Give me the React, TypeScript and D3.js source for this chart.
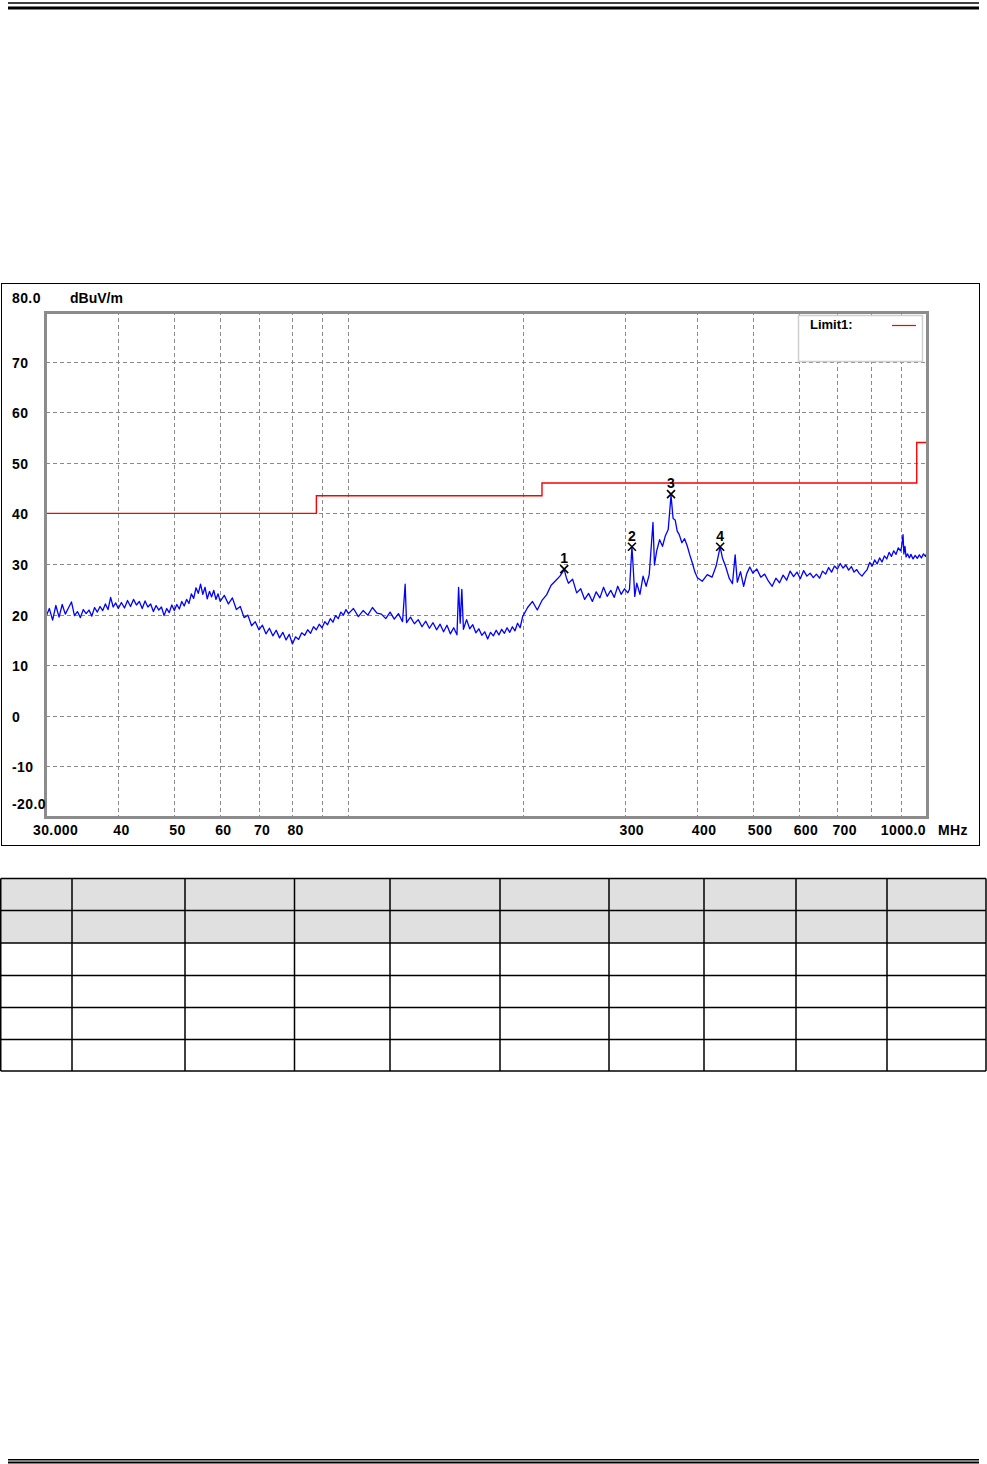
import React, { useEffect, useRef } from "react";
import * as d3 from "d3";

// measured sweep, [MHz, dBuV/m]
const trace: [number, number][] = [
	[30, 19.6], [30.4, 21.2], [30.8, 18.9], [31.2, 21.8], [31.6, 19.5], [32, 22.0],
	[32.4, 20.1], [32.8, 21.3], [33.2, 22.5], [33.6, 19.8], [34, 20.6], [34.4, 19.4],
	[34.8, 21.0], [35.2, 20.2], [35.6, 20.9], [36, 19.7], [36.4, 21.4], [36.8, 20.5],
	[37.2, 21.6], [37.6, 20.8], [38, 22.1], [38.4, 21.0], [38.8, 23.4], [39.2, 21.5],
	[39.6, 22.3], [40, 21.2],
	[40.5, 22.4], [41, 21.3], [41.5, 22.8], [42, 21.6], [42.5, 23.0], [43, 21.9],
	[43.5, 22.6], [44, 21.2], [44.5, 22.7], [45, 21.5], [45.5, 22.1], [46, 20.6],
	[46.5, 21.8], [47, 20.9], [47.5, 21.5], [48, 19.8], [48.5, 21.2], [49, 20.4],
	[49.5, 21.9], [50, 20.8], [50.5, 22.0], [51, 21.1], [51.5, 22.6], [52, 21.7],
	[52.5, 23.0], [53, 22.2], [53.5, 24.1], [54, 23.2], [54.5, 25.3], [55, 24.2],
	[55.5, 26.0], [56, 24.0], [56.5, 25.4], [57, 23.1], [57.5, 24.6], [58, 23.5],
	[58.5, 24.8], [59, 23.0], [59.5, 24.1], [60, 22.6],
	[61, 23.8], [62, 22.1], [63, 23.3], [64, 21.0], [65, 21.6], [66, 19.4],
	[67, 19.9], [68, 17.8], [69, 18.6], [70, 17.0], [71, 17.9], [72, 16.2],
	[73, 17.3], [74, 15.8], [75, 16.9], [76, 15.4], [77, 16.5], [78, 15.0],
	[79, 16.1], [80, 14.2], [81, 15.6], [82, 15.1], [83, 16.4], [84, 15.9],
	[85, 17.0], [86, 16.3], [87, 17.6], [88, 17.0], [89, 18.1], [90, 17.4],
	[91, 18.6], [92, 18.0], [93, 19.2], [94, 18.5], [95, 19.8], [96, 19.2],
	[97, 20.5], [98, 19.9], [99, 21.0], [100, 20.2],
	[102, 21.2], [104, 19.6], [106, 20.8], [108, 19.9], [110, 21.4], [112, 20.3],
	[114, 20.1], [116, 19.2], [118, 20.5], [120, 19.1], [122, 20.2], [124, 18.6],
	[125.3, 26.0], [126, 18.4], [128, 19.5], [130, 18.2], [132, 19.0], [134, 17.6],
	[136, 18.7], [138, 17.3], [140, 18.4], [142, 17.0], [144, 18.1], [146, 16.6],
	[148, 17.9], [150, 16.2], [152, 17.4], [154, 16.0], [155, 25.4], [156, 18.3],
	[157, 25.0], [158, 17.1], [160, 19.0], [162, 17.2], [164, 18.0], [166, 16.4],
	[168, 17.2], [170, 15.9], [172, 16.6], [174, 15.2], [176, 16.5], [178, 15.8],
	[180, 16.9], [182, 16.0], [184, 17.1], [186, 16.3], [188, 17.4], [190, 16.5],
	[192, 17.6], [194, 16.8], [196, 18.3], [198, 17.4], [200, 19.6],
	[204, 21.4], [208, 22.6], [212, 20.9], [216, 22.8], [220, 23.9], [224, 25.8],
	[228, 26.7], [232, 27.6], [236, 28.9], [238, 27.3], [240, 26.2], [244, 27.0],
	[248, 24.3], [252, 25.1], [256, 23.0], [260, 24.2], [264, 22.6], [268, 24.5],
	[272, 23.3], [276, 25.4], [280, 23.6], [284, 24.8], [288, 23.4], [292, 25.6],
	[296, 24.0], [300, 25.1], [304, 24.3], [306, 25.0], [309, 33.4], [310.5, 29.5],
	[312.5, 23.6], [315, 26.2], [319, 24.0], [323, 27.6], [327, 25.6], [331, 27.9],
	[336, 38.2], [338, 29.8], [341, 32.6], [345, 34.8], [349, 33.5], [353, 35.6],
	[357, 36.8], [361, 43.6], [364, 39.0], [367, 38.7], [370, 36.5], [373, 35.8],
	[377, 34.2], [381, 35.0], [385, 33.6], [389, 31.8], [393, 30.2], [397, 28.4],
	[401, 27.3], [409, 26.6], [417, 27.9], [425, 27.4], [432, 29.6], [439, 33.4],
	[443, 31.2], [449, 29.4], [455, 27.2], [461, 26.1], [466, 31.8], [470, 26.4],
	[476, 28.5], [482, 25.6], [488, 28.1], [494, 29.4], [500, 28.2], [508, 29.0],
	[516, 27.4], [524, 28.0], [532, 26.6], [540, 25.6], [548, 27.2], [556, 26.3],
	[564, 27.8], [572, 26.8], [580, 28.6], [588, 27.5], [596, 28.4], [604, 27.1],
	[612, 28.7], [620, 27.6], [628, 28.2], [636, 27.3], [644, 28.0], [652, 27.2],
	[660, 28.6], [668, 28.0], [676, 29.3], [684, 28.4], [692, 29.6], [700, 29.0],
	[708, 30.1], [716, 29.2], [724, 29.8], [732, 28.8], [740, 29.5], [748, 28.4],
	[756, 28.9], [764, 28.1], [772, 27.6], [780, 28.3], [788, 28.9], [796, 30.3],
	[804, 29.6], [812, 30.8], [820, 30.0], [828, 31.2], [836, 30.4], [844, 31.6],
	[852, 31.0], [860, 32.3], [868, 31.5], [876, 32.6], [884, 31.9], [892, 33.2],
	[900, 32.6], [904, 33.4], [909, 35.8], [912, 32.0], [916, 33.5], [920, 31.4],
	[926, 32.0], [932, 31.2], [938, 31.9], [946, 31.0], [954, 31.7], [962, 31.1],
	[970, 31.8], [978, 31.2], [986, 32.0], [994, 31.5], [1000, 32.2],
];

// Limit1 steps (start freq of each band, last entry closes the range)
const limitFreq = [30, 88, 216, 960, 1000];
const limitLevel = [40, 43.5, 46, 54, 54];

const markerNo = [1, 2, 3, 4];
const markerFreq = [236, 309, 361, 439];
const markerLevel = [29.0, 33.4, 43.8, 33.4];

const yGrid = [70, 60, 50, 40, 30, 20, 10, 0, -10];
const yLabels = ["70", "60", "50", "40", "30", "20", "10", "0", "-10"];
const xGrid = [40, 50, 60, 70, 80, 90, 100, 200, 300, 400, 500, 600, 700, 800, 900];
const xTickValues = [30, 40, 50, 60, 70, 80, 300, 400, 500, 600, 700, 1000];
const xTickLabels = ["30.000", "40", "50", "60", "70", "80", "300", "400", "500", "600", "700", "1000.0"];

const FONT = "'Liberation Sans', Arial, sans-serif";

const App: React.FC = () => {
	const svgRef = useRef<SVGSVGElement>(null);

	useEffect(() => {
		if (!svgRef.current) return;
		const svg = d3.select(svgRef.current);
		svg.selectAll("*").remove();

		// page rules
		const rules = svg.append("g").attr("stroke", "#000");
		rules.append("line").attr("x1", 8).attr("x2", 979).attr("y1", 3).attr("y2", 3).attr("stroke-width", 1.5);
		rules.append("line").attr("x1", 8).attr("x2", 979).attr("y1", 8).attr("y2", 8).attr("stroke-width", 3);
		rules.append("line").attr("x1", 8).attr("x2", 979).attr("y1", 1459.7).attr("y2", 1459.7).attr("stroke-width", 1.4);
		rules.append("line").attr("x1", 8).attr("x2", 979).attr("y1", 1462.4).attr("y2", 1462.4).attr("stroke-width", 2);

		// chart frame
		svg.append("rect")
			.attr("x", 1.5).attr("y", 283.5).attr("width", 978).attr("height", 562)
			.attr("fill", "#fff").attr("stroke", "#000").attr("stroke-width", 1);

		const x = d3.scaleLog().domain([30, 1000]).range([46, 927]);
		const y = d3.scaleLinear().domain([-20, 80]).range([817, 311]);

		const grid = svg.append("g")
			.attr("stroke", "#8a8a8a")
			.attr("stroke-width", 1)
			.attr("stroke-dasharray", "4,3");
		grid.selectAll("line.h")
			.data(yGrid)
			.join("line")
			.attr("class", "h")
			.attr("x1", 46).attr("x2", 927)
			.attr("y1", (d) => Math.round(y(d)) + 0.5)
			.attr("y2", (d) => Math.round(y(d)) + 0.5);
		grid.selectAll("line.v")
			.data(xGrid)
			.join("line")
			.attr("class", "v")
			.attr("y1", 311).attr("y2", 817)
			.attr("x1", (d) => Math.round(x(d)) + 0.5)
			.attr("x2", (d) => Math.round(x(d)) + 0.5);

		// legend
		svg.append("rect")
			.attr("x", 798.5).attr("y", 315.5).attr("width", 124).attr("height", 46)
			.attr("fill", "#fff").attr("stroke", "#cfcfcf").attr("stroke-width", 1.5);
		svg.append("text")
			.attr("x", 810).attr("y", 329)
			.attr("font-family", FONT).attr("font-size", 13).attr("font-weight", "bold")
			.text("Limit1:");
		svg.append("line")
			.attr("x1", 892).attr("x2", 916).attr("y1", 325.5).attr("y2", 325.5)
			.attr("stroke", "#ff0000").attr("stroke-width", 1.2);

		// limit line
		const limitPts: [number, number][] = limitFreq.map((f, i) => [f, limitLevel[i]]);
		svg.append("path")
			.datum(limitPts)
			.attr("fill", "none")
			.attr("stroke", "#ff0000")
			.attr("stroke-width", 1.4)
			.attr("d", d3.line<[number, number]>().x((d) => x(d[0])).y((d) => y(d[1])).curve(d3.curveStepAfter));

		// trace
		svg.append("path")
			.datum(trace)
			.attr("fill", "none")
			.attr("stroke", "#0000ff")
			.attr("stroke-width", 1.3)
			.attr("stroke-linejoin", "round")
			.attr("d", d3.line<[number, number]>().x((d) => x(d[0])).y((d) => y(d[1])));

		// plot border
		svg.append("rect")
			.attr("x", 45.5).attr("y", 312.5).attr("width", 882).attr("height", 505)
			.attr("fill", "none").attr("stroke", "#8c8c8c").attr("stroke-width", 3);

		// markers
		const mk = svg.append("g").selectAll("g")
			.data(markerNo)
			.join("g")
			.attr("transform", (d, i) => `translate(${x(markerFreq[i])},${y(markerLevel[i])})`);
		mk.append("path")
			.attr("d", "M-4,-4L4,4M-4,4L4,-4")
			.attr("stroke", "#000").attr("stroke-width", 1.6);
		mk.append("text")
			.attr("y", -6)
			.attr("text-anchor", "middle")
			.attr("font-family", FONT).attr("font-size", 14).attr("font-weight", "bold")
			.text((d) => d);

		// axis labels
		const labels = svg.append("g")
			.attr("font-family", FONT).attr("font-size", 14).attr("font-weight", "bold")
			.attr("letter-spacing", 0.4)
			.attr("fill", "#000");
		labels.append("text").attr("x", 12).attr("y", 303).text("80.0");
		labels.append("text").attr("x", 70).attr("y", 303).attr("letter-spacing", 0).text("dBuV/m");
		labels.append("text").attr("x", 12).attr("y", 809).text("-20.0");
		labels.selectAll("text.yl")
			.data(yGrid)
			.join("text")
			.attr("class", "yl")
			.attr("x", 12)
			.attr("y", (d) => y(d) + 6)
			.text((d, i) => yLabels[i]);
		labels.selectAll("text.xl")
			.data(xTickValues)
			.join("text")
			.attr("class", "xl")
			.attr("y", 835)
			.attr("text-anchor", (d, i) => (i === xTickValues.length - 1 ? "end" : "start"))
			.attr("x", (d, i) => (i === 0 ? 33 : i === xTickValues.length - 1 ? 926 : x(d) - 5))
			.text((d, i) => xTickLabels[i]);
		labels.append("text").attr("x", 938).attr("y", 835).text("MHz");

		// empty result table below the chart
		const colEdges = [0.75, 72, 185, 294.5, 390, 500, 609, 704, 796, 887, 986];
		const rowEdges = [878.5, 910.5, 943, 975.5, 1007.5, 1039.5, 1071];
		const tbl = svg.append("g");
		tbl.append("rect")
			.attr("x", colEdges[0]).attr("y", rowEdges[0])
			.attr("width", colEdges[colEdges.length - 1] - colEdges[0])
			.attr("height", rowEdges[2] - rowEdges[0])
			.attr("fill", "#e0e0e0");
		tbl.selectAll("line.r")
			.data(rowEdges)
			.join("line")
			.attr("class", "r")
			.attr("x1", colEdges[0]).attr("x2", colEdges[colEdges.length - 1])
			.attr("y1", (d) => d).attr("y2", (d) => d)
			.attr("stroke", "#000").attr("stroke-width", 1.5);
		tbl.selectAll("line.c")
			.data(colEdges)
			.join("line")
			.attr("class", "c")
			.attr("y1", rowEdges[0]).attr("y2", rowEdges[rowEdges.length - 1])
			.attr("x1", (d) => d).attr("x2", (d) => d)
			.attr("stroke", "#000").attr("stroke-width", 1.5);
	}, []);

	return (
		<svg
			ref={svgRef}
			width={987}
			height={1464}
			style={{ position: "absolute", left: 0, top: 0, background: "#fff" }}
		/>
	);
};

export default App;
